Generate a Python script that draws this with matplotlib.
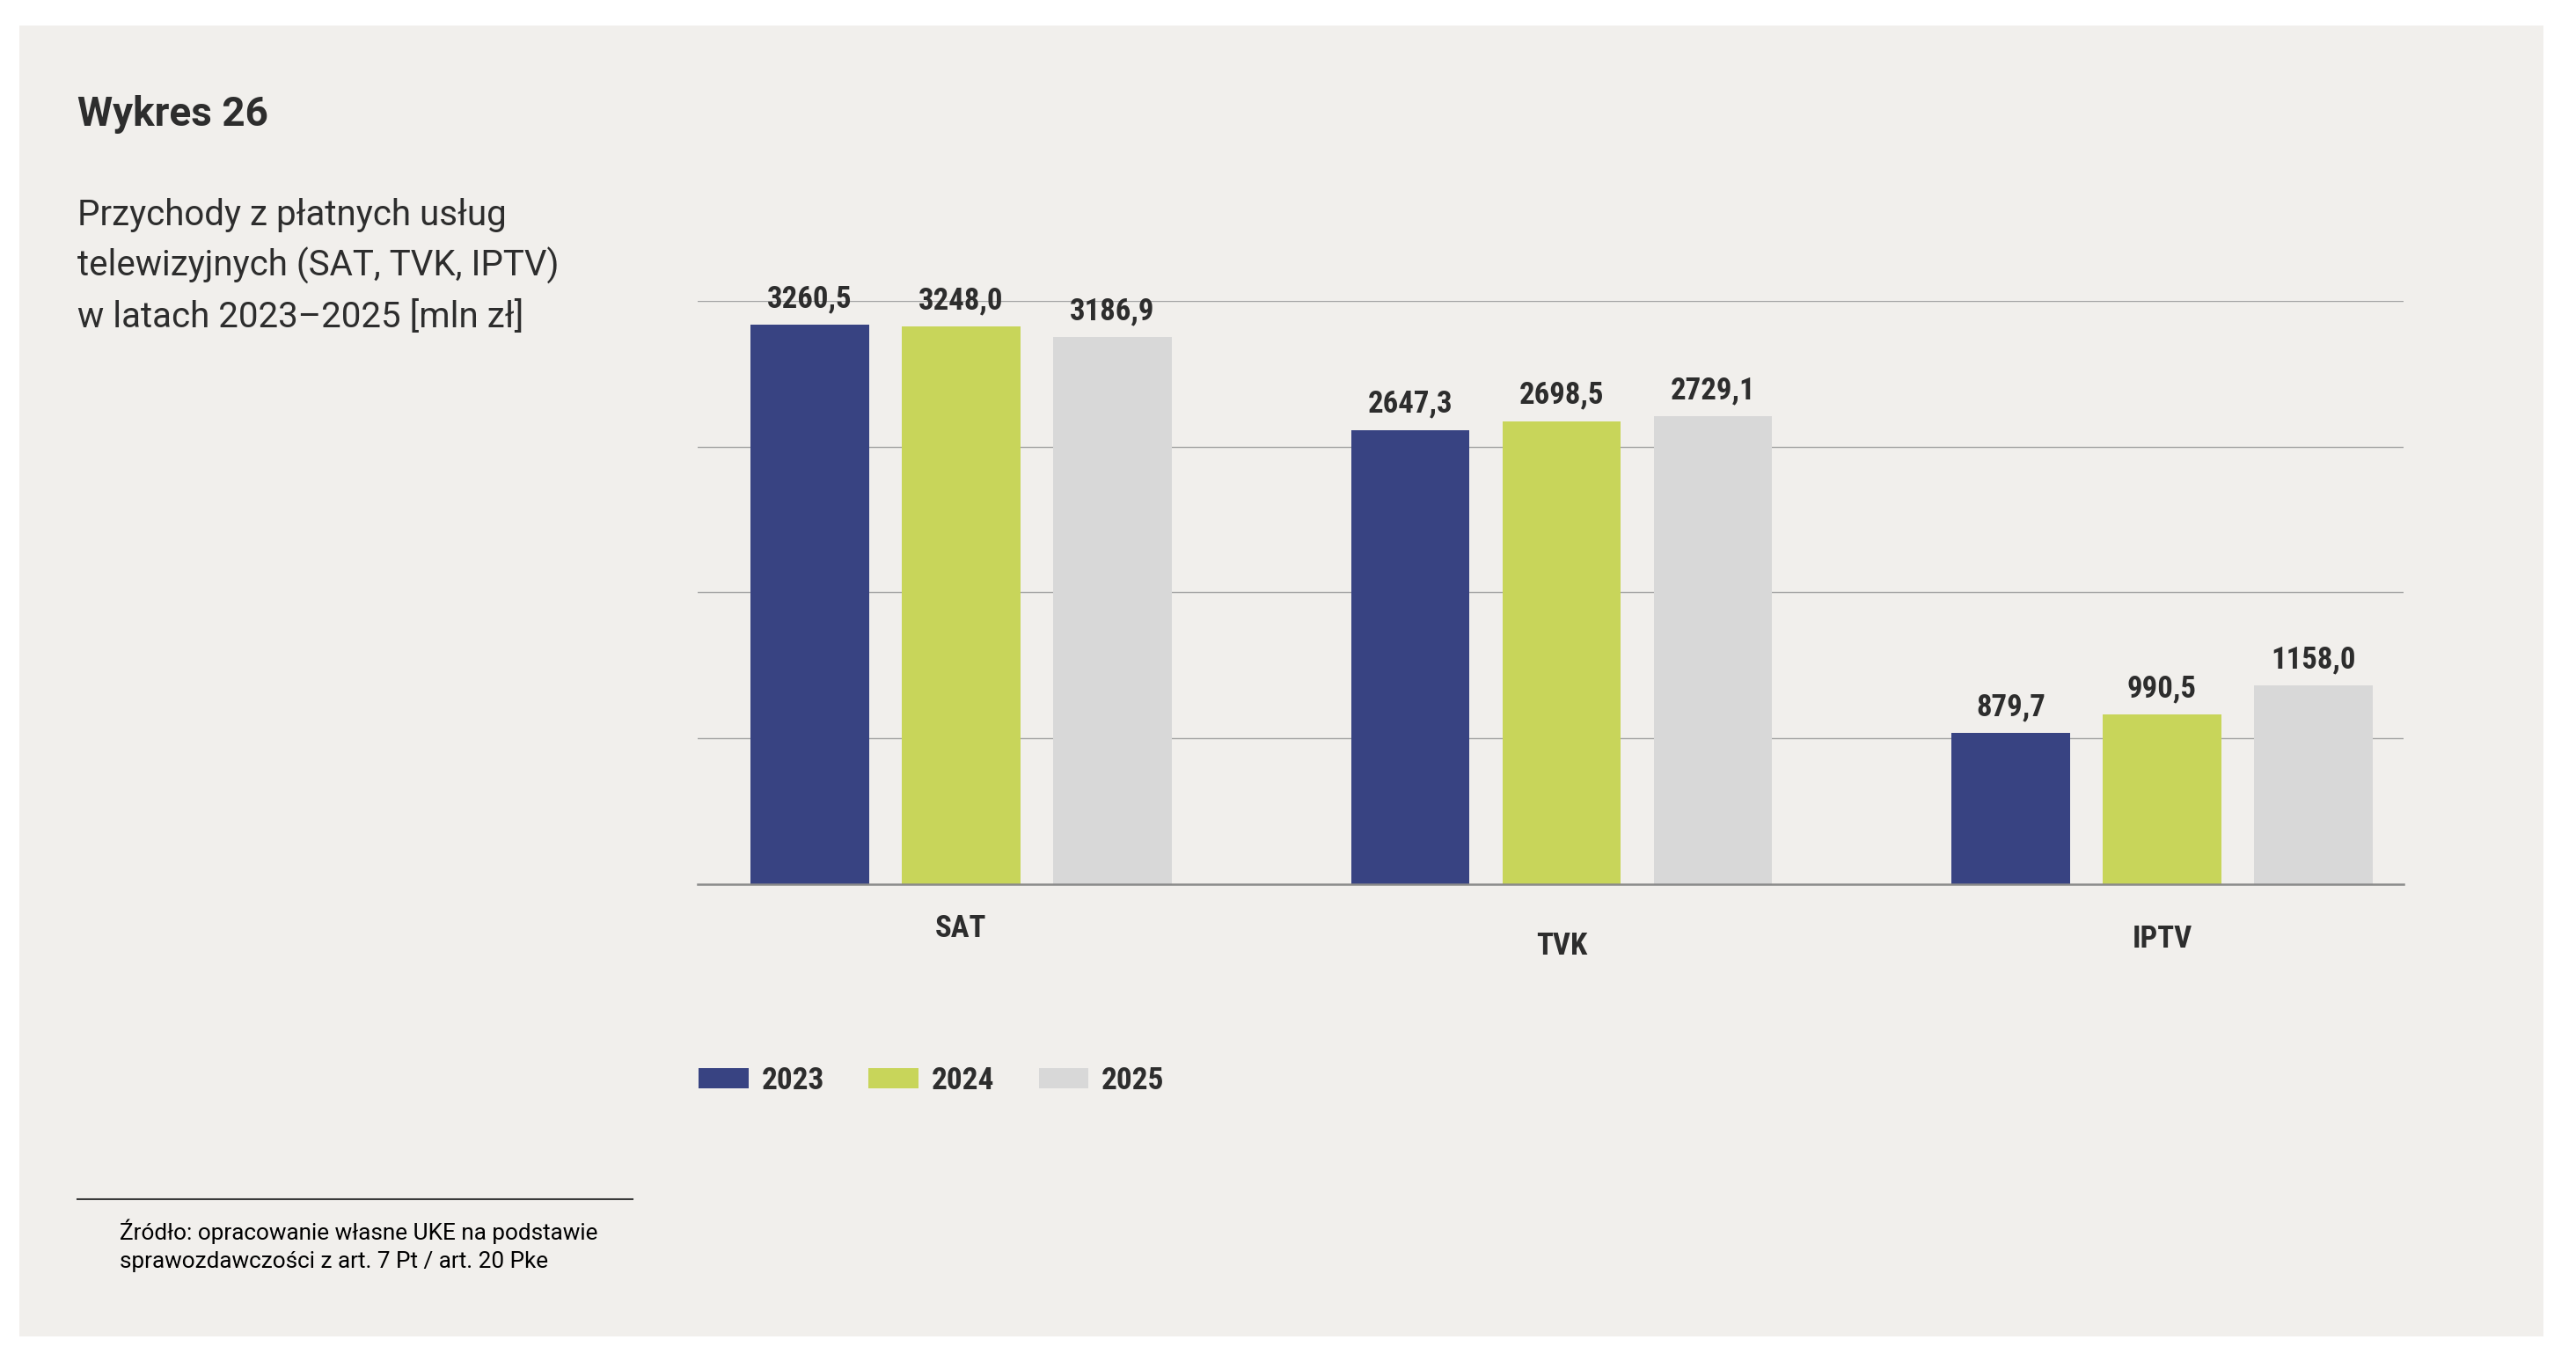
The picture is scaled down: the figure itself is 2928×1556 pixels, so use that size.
"""Przychody z płatnych usług telewizyjnych (SAT, TVK, IPTV) 2023-2025."""

import matplotlib.pyplot as plt
from matplotlib.font_manager import FontProperties
from matplotlib.patches import Rectangle
import numpy as np

# --- data -------------------------------------------------------------
categories = ["SAT", "TVK", "IPTV"]
years = ["2023", "2024", "2025"]
values_2023 = [3260.5, 2647.3, 879.7]
values_2024 = [3248.0, 2698.5, 990.5]
values_2025 = [3186.9, 2729.1, 1158.0]
series = [values_2023, values_2024, values_2025]

colors = ["#384382", "#c8d55a", "#d8d8d8"]
text_color = "#2d2d2d"
panel_color = "#f1efec"

cond = ["Roboto Condensed", "Liberation Sans Narrow", "Roboto", "DejaVu Sans"]
regular = ["Roboto", "DejaVu Sans"]

W, H = 2928, 1556
fig = plt.figure(figsize=(W / 100, H / 100), dpi=100)
fig.patch.set_facecolor("white")


def fx(px):
    return px / W


def fy(py):
    return 1 - py / H


# paper panel (plain)
fig.add_artist(Rectangle((fx(22), fy(1519)), fx(2891 - 22), (1519 - 29) / H,
                         transform=fig.transFigure, facecolor=panel_color,
                         edgecolor="none", zorder=0))

# --- chart ------------------------------------------------------------
ax = fig.add_axes([0.2710, 0.3541, 0.9330 - 0.2710, 0.7804 - 0.3541])
ax.set_facecolor("none")

x = np.arange(len(categories))
bar_w = 0.197
step = 0.252
for i, (vals, col, yr) in enumerate(zip(series, colors, years)):
    pos = x + (i - 1) * step
    ax.bar(pos, vals, width=bar_w, color=col, label=yr, zorder=3)
    for px_, v in zip(pos, vals):
        ax.annotate(f"{v:.1f}".replace(".", ","), xy=(px_, v),
                    xytext=(0, 21), textcoords="offset points",
                    ha="center", va="center", fontsize=25,
                    fontweight="bold", family=cond, color=text_color,
                    annotation_clip=False)

ax.set_xlim(-0.438, 2.402)
ax.set_ylim(0, 3400)
ax.set_yticks([850, 1700, 2550, 3400])
ax.yaxis.grid(True, color="#a3a3a3", linewidth=1.0, zorder=0)
ax.tick_params(left=False, labelleft=False, bottom=False, labelbottom=False)
for s in ["top", "right", "left"]:
    ax.spines[s].set_visible(False)
ax.spines["bottom"].set_color("#8a8a8a")
ax.spines["bottom"].set_linewidth(1.8)
ax.spines["bottom"].set_zorder(4)

# category labels sit at slightly different depths in the original
label_drop = [36, 51, 45]
for xi, cat, d in zip(x, categories, label_drop):
    ax.annotate(cat, xy=(xi, 0), xytext=(0, -d), textcoords="offset points",
                ha="center", va="center", fontsize=25, fontweight="bold",
                family=cond, color=text_color, annotation_clip=False)

# legend
leg_font = FontProperties(family=cond, weight="bold", size=25.5)
leg = ax.legend(loc="center left", bbox_to_anchor=(fx(794), fy(1228)),
                bbox_transform=fig.transFigure, ncol=3, frameon=False,
                prop=leg_font, borderpad=0, borderaxespad=0,
                handlelength=1.6, handleheight=0.62, handletextpad=0.42,
                columnspacing=1.42)
for t in leg.get_texts():
    t.set_color(text_color)

# --- titles and source ------------------------------------------------
fig.text(fx(88), fy(130), "Wykres 26", fontsize=33, fontweight="bold",
         family=regular, color=text_color, va="center", ha="left")
subtitle = ["Przychody z płatnych usług",
            "telewizyjnych (SAT, TVK, IPTV)",
            "w latach 2023–2025 [mln zł]"]
for line, py in zip(subtitle, [244, 302, 360]):
    fig.text(fx(88), fy(py), line, fontsize=29, family=regular,
             color=text_color, va="center", ha="left")

fig.add_artist(plt.Line2D([fx(88), fx(719)], [fy(1363), fy(1363)],
                          transform=fig.transFigure, color="#3a3a3a",
                          linewidth=1.5))
source = ["Źródło: opracowanie własne UKE na podstawie",
          "sprawozdawczości z art. 7 Pt / art. 20 Pke"]
for line, py in zip(source, [1400, 1434]):
    fig.text(fx(136), fy(py), line, fontsize=18.8, family=regular,
             color="black", va="center", ha="left")

fig.savefig("out.png", dpi=100, facecolor=fig.get_facecolor())
